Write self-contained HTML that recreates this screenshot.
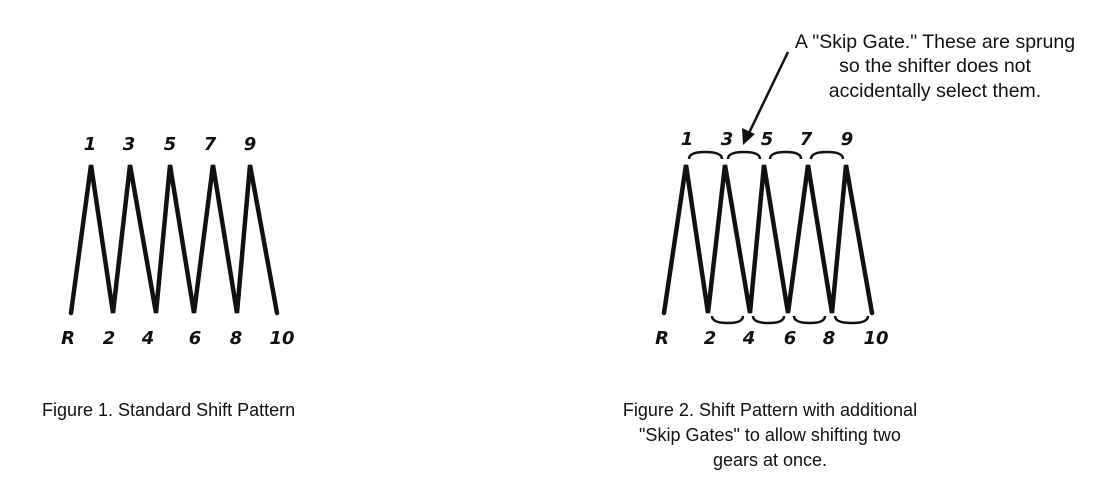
<!DOCTYPE html>
<html><head><style>
body{margin:0;background:#fff;}
svg{display:block;}
.t{font-family:"Liberation Sans",sans-serif;font-size:18px;fill:#111;}
.a{font-family:"Liberation Sans",sans-serif;font-size:19.5px;fill:#111;}
.n{font-family:"DejaVu Sans",sans-serif;font-weight:bold;font-style:italic;font-size:18px;fill:#111;text-anchor:middle;}
</style></head><body>
<svg width="1100" height="491" viewBox="0 0 1100 491">
<g fill="none" stroke="#111" stroke-width="4.5" stroke-linejoin="miter" stroke-linecap="round">
<polyline points="71,313 91,165 113,313 130,165 156,313 170,165 194,313 213,165 237,313 250,165 277,313"/>
<polyline points="664,313 686,165 708,313 725,165 750,313 764,165 788,313 808,165 832,313 846,165 872,313"/>
</g>
<g fill="none" stroke="#111" stroke-width="2.5">
<path d="M689,159 Q689,152 705,152 Q722,152 722,159"/>
<path d="M728,159 Q728,152 744,152 Q760,152 760,159"/>
<path d="M770,159 Q770,152 786,152 Q801,152 801,159"/>
<path d="M811,159 Q811,152 827,152 Q843,152 843,159"/>
<path d="M712,316 Q712,323 728,323 Q743,323 743,316"/>
<path d="M753,316 Q753,323 769,323 Q784,323 784,316"/>
<path d="M794,316 Q794,323 810,323 Q825,323 825,316"/>
<path d="M835,316 Q835,323 852,323 Q868,323 868,316"/>
<line x1="788" y1="52" x2="749" y2="133" stroke-width="2.5"/>
</g>
<polygon points="743,145 742,128 755,134" fill="#111"/>
<g class="n">
<text x="90" y="150">1</text><text x="129" y="150">3</text><text x="170" y="150">5</text><text x="210" y="150">7</text><text x="250" y="150">9</text>
<text x="68" y="344">R</text><text x="109" y="344">2</text><text x="148" y="344">4</text><text x="195" y="344">6</text><text x="236" y="344">8</text><text x="282" y="344">10</text>
<text x="687" y="145">1</text><text x="727" y="145">3</text><text x="767" y="145">5</text><text x="806" y="145">7</text><text x="847" y="145">9</text>
<text x="662" y="344">R</text><text x="710" y="344">2</text><text x="749" y="344">4</text><text x="790" y="344">6</text><text x="829" y="344">8</text><text x="876" y="344">10</text>
</g>
<g class="a" text-anchor="middle">
<text x="935" y="48">A "Skip Gate." These are sprung</text>
<text x="935" y="72">so the shifter does not</text>
<text x="935" y="97">accidentally select them.</text>
</g>
<g class="t" text-anchor="middle">
<text x="770" y="416">Figure 2. Shift Pattern with additional</text>
<text x="770" y="441">"Skip Gates" to allow shifting two</text>
<text x="770" y="466">gears at once.</text>
</g>
<text class="t" x="42" y="416">Figure 1. Standard Shift Pattern</text>
</svg>
</body></html>
